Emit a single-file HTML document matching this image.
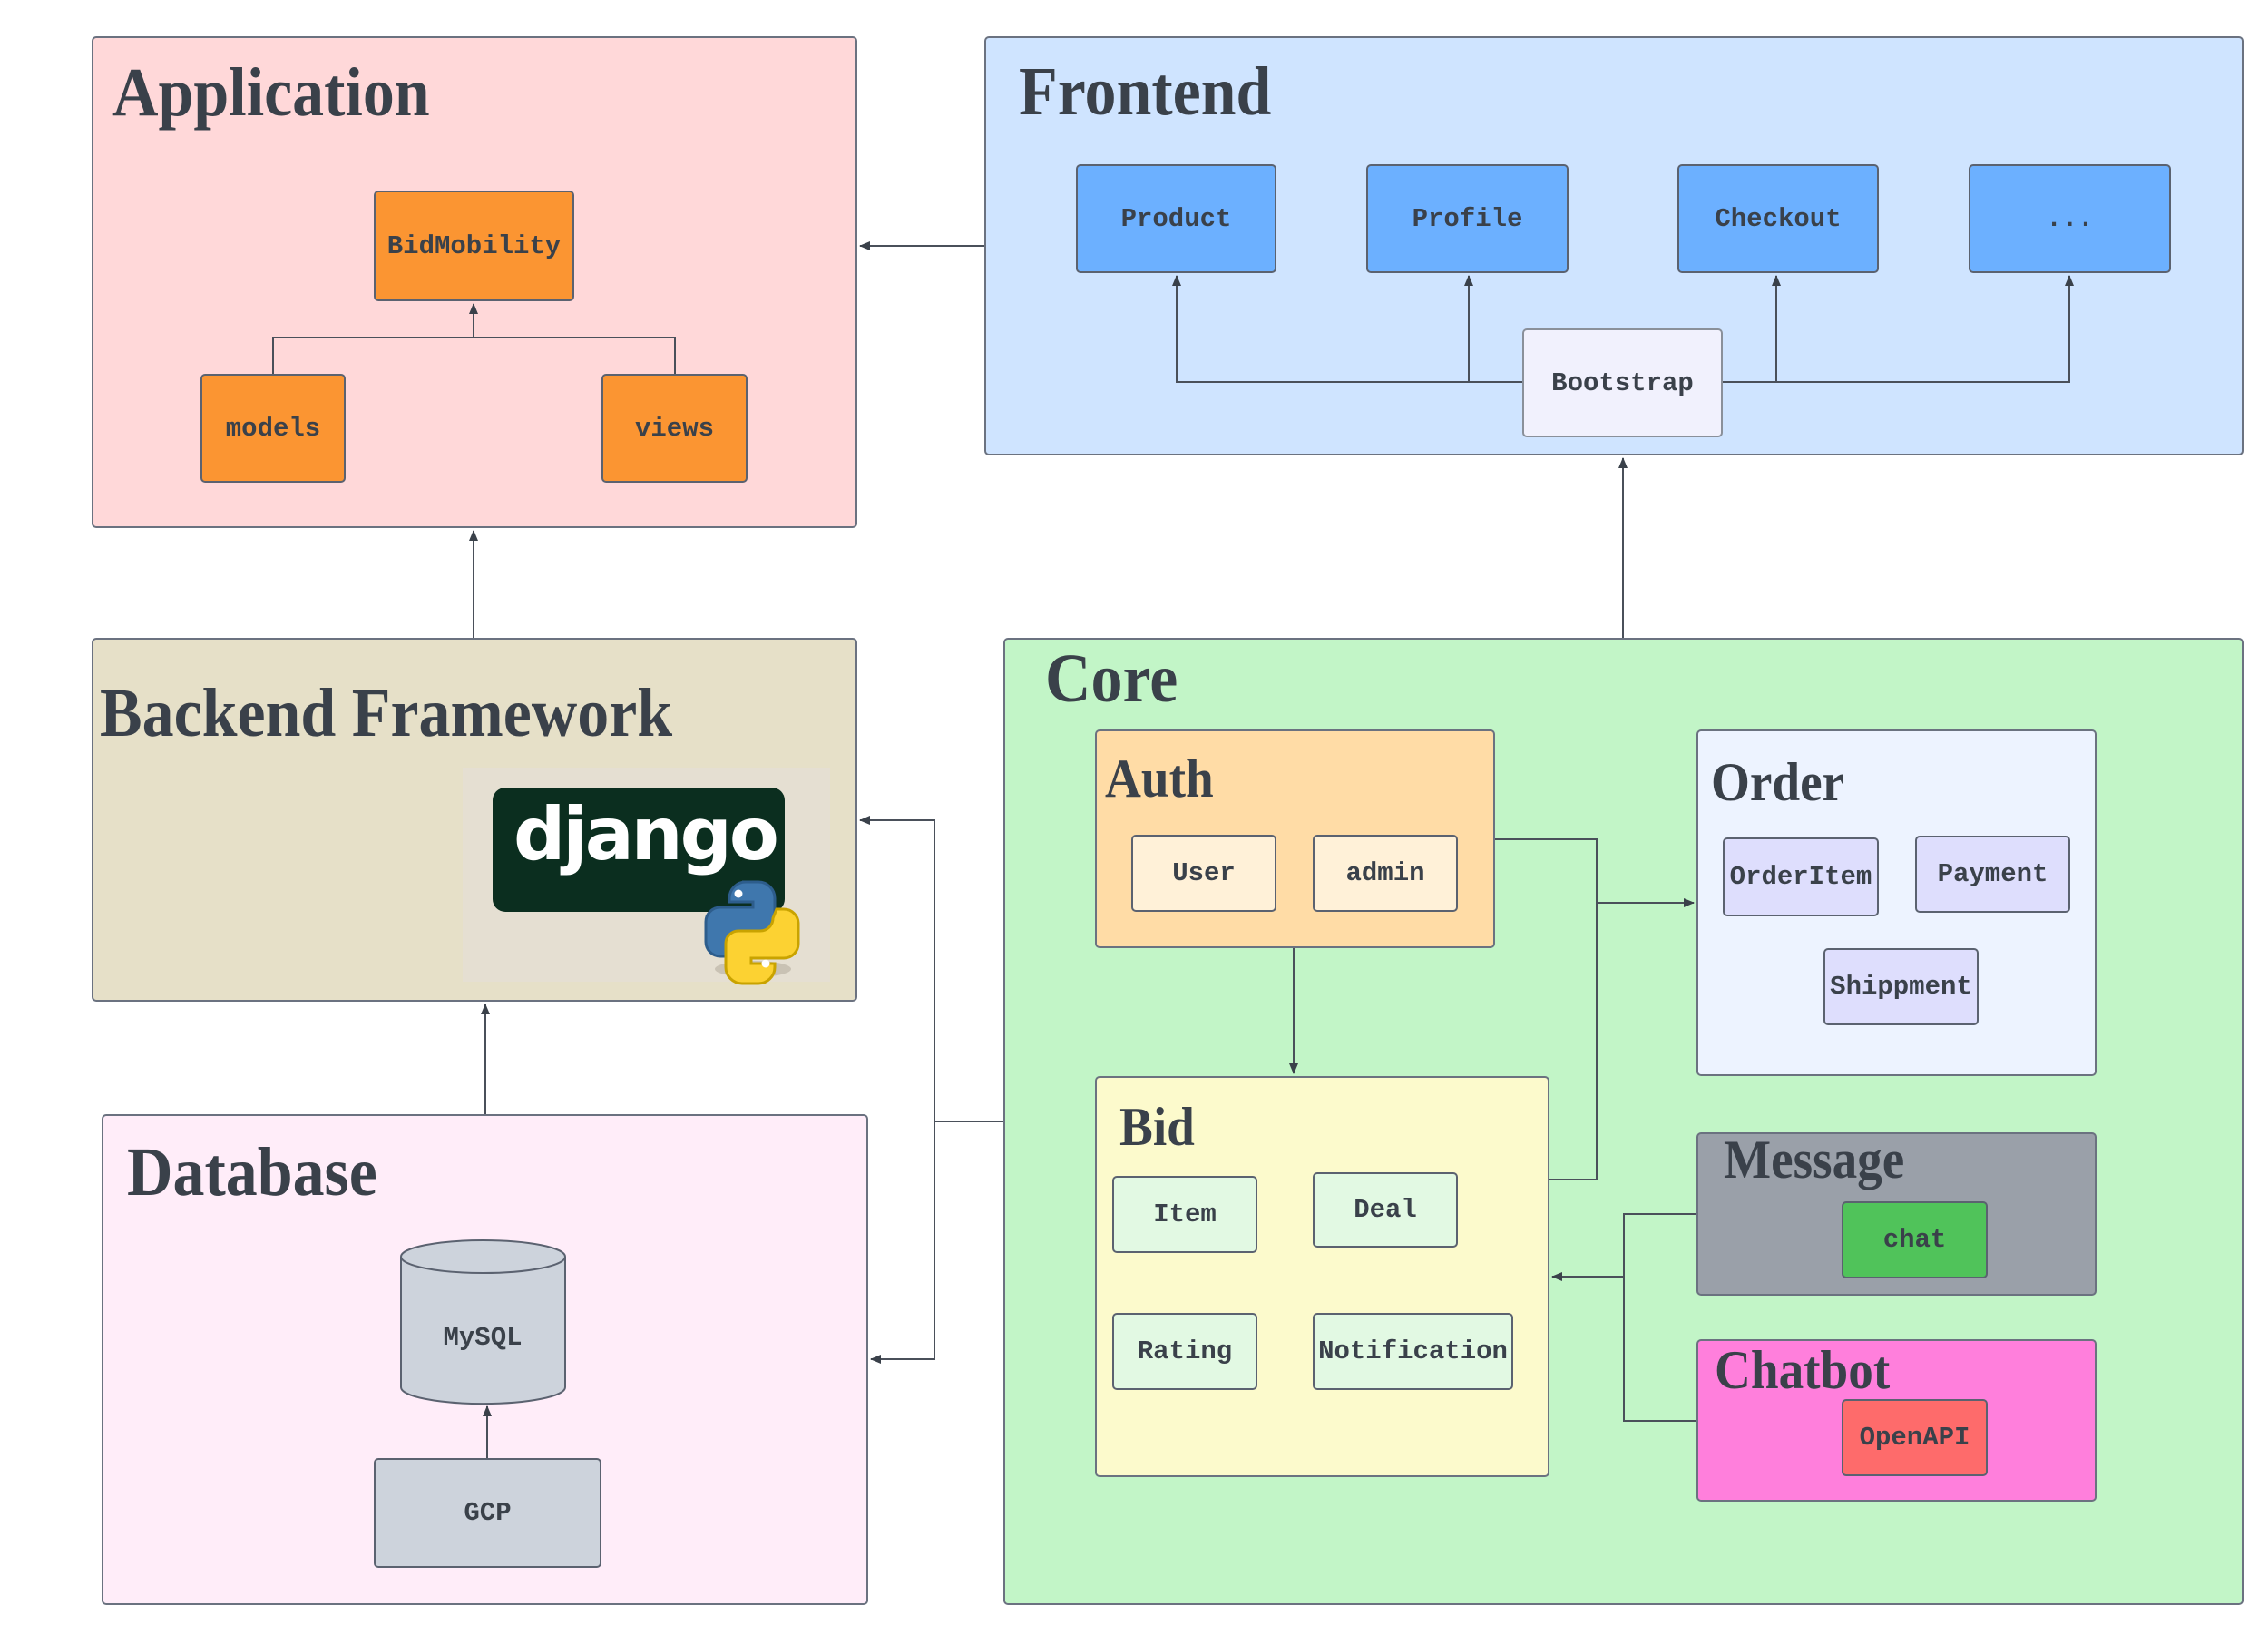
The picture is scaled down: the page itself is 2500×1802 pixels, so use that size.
<!DOCTYPE html>
<html><head><meta charset="utf-8"><style>
body{margin:0;width:2500px;height:1802px;background:#fff;position:relative;overflow:hidden;font-family:"Liberation Sans",sans-serif}
.b{position:absolute;box-sizing:border-box;border:2px solid #6b7280;border-radius:5px}
.t{position:absolute;font-family:"Liberation Serif",serif;font-weight:bold;color:#3a414a;transform-origin:0 0;transform:scaleX(0.92);white-space:nowrap;line-height:1}
.n{position:absolute;box-sizing:border-box;border:2px solid #5b6270;border-radius:5px;display:flex;align-items:center;justify-content:center;font-family:"Liberation Mono",monospace;font-weight:bold;font-size:29px;color:#3a414a;white-space:nowrap}
svg{position:absolute;left:0;top:0}
</style></head><body>
<!-- Application -->
<div class="b" style="left:101px;top:40px;width:844px;height:542px;background:#ffd8d9"></div>
<div class="t" style="left:124px;top:64px;font-size:76px">Application</div>
<div class="n" style="left:412px;top:210px;width:221px;height:122px;background:#fb9532">BidMobility</div>
<div class="n" style="left:221px;top:412px;width:160px;height:120px;background:#fb9532">models</div>
<div class="n" style="left:663px;top:412px;width:161px;height:120px;background:#fb9532">views</div>
<!-- Frontend -->
<div class="b" style="left:1085px;top:40px;width:1388px;height:462px;background:#cfe4ff"></div>
<div class="t" style="left:1123px;top:63px;font-size:76px">Frontend</div>
<div class="n" style="left:1186px;top:181px;width:221px;height:120px;background:#6cb0ff">Product</div>
<div class="n" style="left:1506px;top:181px;width:223px;height:120px;background:#6cb0ff">Profile</div>
<div class="n" style="left:1849px;top:181px;width:222px;height:120px;background:#6cb0ff">Checkout</div>
<div class="n" style="left:2170px;top:181px;width:223px;height:120px;background:#6cb0ff">...</div>
<div class="n" style="left:1678px;top:362px;width:221px;height:120px;background:#f1f1fd;border-color:#8a909a">Bootstrap</div>
<!-- Backend -->
<div class="b" style="left:101px;top:703px;width:844px;height:401px;background:#e6e0c8"></div>
<div class="t" style="left:110px;top:748px;font-size:76px">Backend Framework</div>
<div style="position:absolute;left:510px;top:846px;width:405px;height:236px;background:#e5dfd2"></div>
<div style="position:absolute;left:543px;top:868px;width:322px;height:137px;background:#0b2e1f;border-radius:14px"></div>
<div style="position:absolute;left:566px;top:880px;font-family:'DejaVu Sans',sans-serif;font-weight:bold;font-size:80px;color:#fff;letter-spacing:-3px;line-height:1">django</div>
<svg width="2500" height="1802" style="pointer-events:none">
<ellipse cx="830" cy="1068" rx="42" ry="9" fill="#c9c2b4"/>
<path d="M818 972 h18 a18 18 0 0 1 18 18 v26 a14 14 0 0 1 -14 14 h-24 a14 14 0 0 0 -14 14 v10 h-8 a16 16 0 0 1-16-16 v-22 a16 16 0 0 1 16-16 h36 v-6 h-26 v-4 a18 18 0 0 1 18-18z" fill="#3f77ad" stroke="#2d5d8c" stroke-width="3"/>
<path d="M856 1002 h8 a16 16 0 0 1 16 16 v22 a16 16 0 0 1 -16 16 h-36 v6 h26 v4 a18 18 0 0 1 -18 18 h-18 a18 18 0 0 1 -18 -18 v-26 a14 14 0 0 1 14 -14 h24 a14 14 0 0 0 14 -14z" fill="#fcd232" stroke="#c9a300" stroke-width="3"/>
<circle cx="814" cy="985" r="4.5" fill="#fff"/><circle cx="844" cy="1062" r="4.5" fill="#fff"/>
</svg>
<!-- Database -->
<div class="b" style="left:112px;top:1228px;width:845px;height:541px;background:#ffedf9"></div>
<div class="t" style="left:140px;top:1254px;font-size:76px">Database</div>
<svg width="2500" height="1802">
<path d="M442 1385 v144 a90 18 0 0 0 181 0 v-144" fill="#cdd3dc" stroke="#5b6270" stroke-width="2"/>
<ellipse cx="532.5" cy="1385" rx="90.5" ry="18" fill="#cdd3dc" stroke="#5b6270" stroke-width="2"/>
<text x="532" y="1482" text-anchor="middle" font-family="Liberation Mono" font-weight="bold" font-size="29" fill="#3a414a">MySQL</text>
</svg>
<div class="n" style="left:412px;top:1607px;width:251px;height:121px;background:#cdd3dc">GCP</div>
<!-- Core -->
<div class="b" style="left:1106px;top:703px;width:1367px;height:1066px;background:#c2f5c7"></div>
<div class="t" style="left:1152px;top:710px;font-size:76px">Core</div>
<div class="b" style="left:1207px;top:804px;width:441px;height:241px;background:#ffdca6"></div>
<div class="t" style="left:1218px;top:828px;font-size:60px">Auth</div>
<div class="n" style="left:1247px;top:920px;width:160px;height:85px;background:#fff1d8">User</div>
<div class="n" style="left:1447px;top:920px;width:160px;height:85px;background:#fff1d8">admin</div>
<div class="b" style="left:1870px;top:804px;width:441px;height:382px;background:#edf3ff"></div>
<div class="t" style="left:1886px;top:832px;font-size:60px">Order</div>
<div class="n" style="left:1899px;top:923px;width:172px;height:87px;background:#dedefd">OrderItem</div>
<div class="n" style="left:2111px;top:921px;width:171px;height:85px;background:#dedefd">Payment</div>
<div class="n" style="left:2010px;top:1045px;width:171px;height:85px;background:#dedefd">Shippment</div>
<div class="b" style="left:1207px;top:1186px;width:501px;height:442px;background:#fcfacc"></div>
<div class="t" style="left:1234px;top:1212px;font-size:60px">Bid</div>
<div class="n" style="left:1226px;top:1296px;width:160px;height:85px;background:#e2f9e3">Item</div>
<div class="n" style="left:1447px;top:1292px;width:160px;height:83px;background:#e2f9e3">Deal</div>
<div class="n" style="left:1226px;top:1447px;width:160px;height:85px;background:#e2f9e3">Rating</div>
<div class="n" style="left:1447px;top:1447px;width:221px;height:85px;background:#e2f9e3">Notification</div>
<div class="b" style="left:1870px;top:1248px;width:441px;height:180px;background:#9aa0a9"></div>
<div class="t" style="left:1900px;top:1248px;font-size:60px">Message</div>
<div class="n" style="left:2030px;top:1324px;width:161px;height:85px;background:#50c35a">chat</div>
<div class="b" style="left:1870px;top:1476px;width:441px;height:179px;background:#ff7fdc"></div>
<div class="t" style="left:1890px;top:1480px;font-size:60px">Chatbot</div>
<div class="n" style="left:2030px;top:1542px;width:161px;height:85px;background:#fe6b6b">OpenAPI</div>
<!-- connectors -->
<svg width="2500" height="1802" fill="none" stroke="#4a505a" stroke-width="2">
<defs><marker id="a" markerWidth="12" markerHeight="10" refX="11" refY="5" orient="auto" markerUnits="userSpaceOnUse"><path d="M0 0 L12 5 L0 10z" fill="#3a414a" stroke="none"/></marker></defs>
<path d="M301 412 V372 H522 V335" marker-end="url(#a)"/>
<path d="M744 412 V372 H522"/>
<path d="M1085 271 H948" marker-end="url(#a)"/>
<path d="M1678 421 H1297 V304" marker-end="url(#a)"/>
<path d="M1619 421 V304" marker-end="url(#a)"/>
<path d="M1899 421 H2281 V304" marker-end="url(#a)"/>
<path d="M1958 421 V304" marker-end="url(#a)"/>
<path d="M1789 703 V505" marker-end="url(#a)"/>
<path d="M522 703 V585" marker-end="url(#a)"/>
<path d="M535 1228 V1107" marker-end="url(#a)"/>
<path d="M537 1607 V1550" marker-end="url(#a)"/>
<path d="M1106 1236 H1030 V904 H948" marker-end="url(#a)"/>
<path d="M1030 1236 V1498 H960" marker-end="url(#a)"/>
<path d="M1648 925 H1760 V1300 H1708"/>
<path d="M1760 995 H1867" marker-end="url(#a)"/>
<path d="M1426 1045 V1183" marker-end="url(#a)"/>
<path d="M1870 1338 H1790 V1566 H1870"/>
<path d="M1790 1407 H1711" marker-end="url(#a)"/>
</svg>
</body></html>
